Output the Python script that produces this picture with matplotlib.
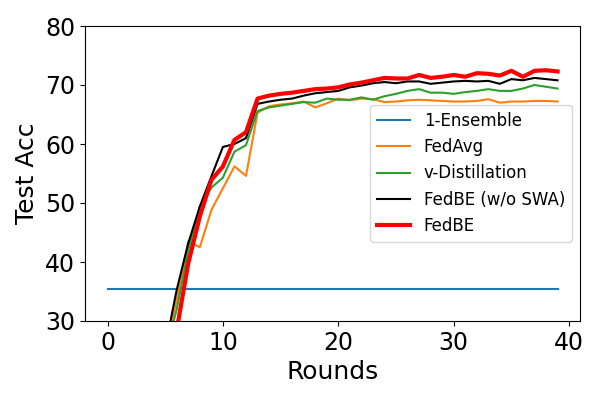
import matplotlib
matplotlib.use("Agg")
import matplotlib.pyplot as plt
import numpy as np

rounds = list(range(40))

ensemble = [35.5] * 40

fedavg = [10.0, 12.0, 14.5, 17.0, 20.0, 25.0, 33.6, 43.5, 42.5, 48.8, 52.5, 56.2, 54.6,
          65.3, 66.4, 66.7, 66.9, 67.2, 66.2, 66.9, 67.7, 67.4, 67.7, 67.6, 67.1, 67.2,
          67.4, 67.5, 67.4, 67.3, 67.2, 67.2, 67.3, 67.6, 67.0, 67.2, 67.2, 67.3, 67.3, 67.2]

vdistill = [10.0, 12.0, 14.5, 17.0, 20.0, 24.5, 32.0, 42.0, 49.4, 52.6, 54.3, 58.7, 59.8,
            65.6, 66.2, 66.5, 66.8, 67.1, 67.0, 67.7, 67.5, 67.5, 67.9, 67.5, 68.1, 68.5,
            69.0, 69.3, 68.7, 68.7, 68.5, 68.8, 69.0, 69.3, 69.0, 69.0, 69.4, 70.0, 69.7, 69.4]

fedbe_noswa = [10.0, 12.0, 14.5, 17.0, 20.0, 25.5, 35.3, 43.2, 49.4, 54.5, 59.5, 60.0, 61.0,
               66.8, 67.2, 67.5, 67.7, 68.2, 68.6, 68.8, 69.0, 69.6, 69.9, 70.3, 70.5, 70.3,
               70.6, 70.6, 70.2, 70.4, 70.6, 70.7, 70.6, 70.7, 70.2, 71.0, 70.8, 71.2, 71.0, 70.8]

fedbe = [10.0, 12.0, 14.5, 17.0, 20.0, 22.0, 28.5, 39.8, 47.7, 53.9, 56.2, 60.7, 62.0,
         67.7, 68.2, 68.5, 68.7, 69.0, 69.3, 69.4, 69.6, 70.1, 70.4, 70.8, 71.2, 71.1,
         71.1, 71.7, 71.2, 71.4, 71.7, 71.4, 72.0, 71.9, 71.6, 72.4, 71.4, 72.4, 72.5, 72.3]

fig = plt.figure(figsize=(6, 4), dpi=100)
ax = fig.add_axes([0.1417, 0.1975, 0.825, 0.7375])

ax.plot(rounds, ensemble, color="#1f77b4", lw=1.5, label="1-Ensemble")
ax.plot(rounds, fedavg, color="#ff7f0e", lw=1.5, label="FedAvg")
ax.plot(rounds, vdistill, color="#2ca02c", lw=1.5, label="v-Distillation")
ax.plot(rounds, fedbe_noswa, color="black", lw=1.5, label="FedBE (w/o SWA)")
ax.plot(rounds, fedbe, color="red", lw=3, label="FedBE")

ax.set_ylim(30, 80)
ax.set_xticks([0, 10, 20, 30, 40])
ax.set_yticks([30, 40, 50, 60, 70, 80])
ax.tick_params(labelsize=17)
ax.set_xlabel("Rounds", fontsize=18)
ax.set_ylabel("Test Acc", fontsize=18)
ax.legend(loc="center right", fontsize=12)

fig.savefig("out.png", dpi=100)
